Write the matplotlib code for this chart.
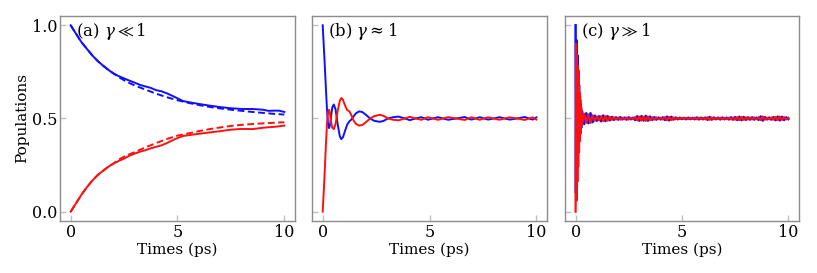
"""Population dynamics in three coupling regimes (a) weak, (b) intermediate, (c) strong."""

import matplotlib
matplotlib.use("Agg")
import matplotlib.pyplot as plt
import numpy as np

# ---------------------------------------------------------------------------
# Style
# ---------------------------------------------------------------------------

_BLUE = "#1010ff"
_RED = "#ff1010"
_SPINE = "#8c8c8c"
_TICK = "#c0c0c0"

plt.rcParams.update({
    "font.family": "DejaVu Serif",
    "mathtext.fontset": "dejavuserif",
    "font.size": 11,
})

# ---------------------------------------------------------------------------
# Data
# ---------------------------------------------------------------------------

# (a) gamma << 1 : solid = exact, dashed = approximate
a_t_solid = [0, 0.25, 0.5, 0.75, 1, 1.25, 1.5, 1.75, 2, 2.25, 2.5, 2.75, 3, 3.25, 3.5,
             3.75, 4, 4.25, 4.5, 4.75, 5, 5.25, 5.5, 6, 6.5, 7, 7.5, 8, 8.5, 9,
             9.25, 9.5, 9.75, 10]
a_blue_solid = [1.0, 0.955, 0.91, 0.875, 0.84, 0.81, 0.785, 0.762, 0.742, 0.727, 0.715,
                0.703, 0.692, 0.68, 0.672, 0.664, 0.652, 0.646, 0.635, 0.622, 0.608,
                0.594, 0.588, 0.578, 0.569, 0.561, 0.555, 0.551, 0.551, 0.547, 0.541,
                0.542, 0.542, 0.535]
a_red_solid = [0.0, 0.045, 0.09, 0.13, 0.165, 0.195, 0.218, 0.24, 0.258, 0.272, 0.285,
               0.3, 0.312, 0.322, 0.33, 0.34, 0.348, 0.356, 0.368, 0.382, 0.395, 0.406,
               0.41, 0.418, 0.425, 0.432, 0.44, 0.444, 0.443, 0.45, 0.453, 0.455,
               0.458, 0.462]

a_t_dashed = [0, 0.25, 0.5, 0.75, 1, 1.25, 1.5, 1.75, 2, 2.25, 2.5, 2.75, 3, 3.5, 4,
              4.5, 5, 5.5, 6, 6.5, 7, 7.5, 8, 8.5, 9, 9.5, 10]
a_blue_dashed = [1.0, 0.955, 0.91, 0.875, 0.84, 0.81, 0.785, 0.762, 0.742, 0.722, 0.705,
                 0.69, 0.677, 0.655, 0.633, 0.614, 0.598, 0.584, 0.572, 0.562, 0.554,
                 0.547, 0.541, 0.535, 0.53, 0.525, 0.521]
a_red_dashed = [0.0, 0.045, 0.09, 0.13, 0.165, 0.195, 0.218, 0.24, 0.258, 0.28, 0.295,
                0.308, 0.32, 0.345, 0.368, 0.39, 0.408, 0.42, 0.432, 0.443, 0.452,
                0.46, 0.466, 0.47, 0.474, 0.477, 0.48]

# (b) gamma ~ 1
b_t = [0, 0.05, 0.1, 0.15, 0.2, 0.25, 0.3, 0.35, 0.4, 0.45, 0.52, 0.6, 0.7, 0.8, 0.87,
       0.95, 1.05, 1.15, 1.25, 1.35, 1.45, 1.55, 1.7, 1.85, 2.0, 2.2, 2.4, 2.67, 2.85,
       3.05, 3.3, 3.55, 3.85, 4.07, 4.35, 4.62, 4.78, 4.93, 5.15, 5.4, 5.63, 5.87, 6.25,
       6.65, 6.8, 6.96, 7.15, 7.35, 7.55, 7.74, 8.0, 8.28, 8.5, 8.75, 9.1, 9.45, 9.65,
       9.83, 10.0]
b_blue = [1.0, 0.89, 0.78, 0.66, 0.55, 0.47, 0.448, 0.47, 0.52, 0.56, 0.575, 0.55, 0.47,
          0.405, 0.389, 0.40, 0.435, 0.468, 0.485, 0.495, 0.512, 0.527, 0.538, 0.535,
          0.522, 0.502, 0.488, 0.482, 0.487, 0.50, 0.507, 0.51, 0.50, 0.491, 0.50, 0.507,
          0.50, 0.493, 0.50, 0.507, 0.50, 0.493, 0.50, 0.508, 0.50, 0.494, 0.50, 0.507,
          0.50, 0.494, 0.50, 0.507, 0.50, 0.494, 0.50, 0.508, 0.50, 0.494, 0.506]
b_red = [0.0, 0.11, 0.23, 0.36, 0.47, 0.535, 0.547, 0.52, 0.475, 0.45, 0.443, 0.47, 0.54,
         0.595, 0.61, 0.60, 0.568, 0.545, 0.538, 0.515, 0.488, 0.472, 0.462, 0.465, 0.478,
         0.498, 0.512, 0.52, 0.514, 0.50, 0.493, 0.49, 0.50, 0.509, 0.50, 0.493, 0.50,
         0.507, 0.50, 0.493, 0.50, 0.507, 0.50, 0.492, 0.50, 0.506, 0.50, 0.493, 0.50,
         0.506, 0.50, 0.493, 0.50, 0.506, 0.50, 0.492, 0.50, 0.506, 0.494]

# (c) gamma >> 1 : fast initial burst, then a narrow jittering band
c_t_early = [0.0, 0.02, 0.04, 0.06, 0.08, 0.10, 0.12, 0.14, 0.16, 0.18, 0.20, 0.22, 0.24, 0.26]
c_blue_early = [1.0, 0.10, 0.92, 0.16, 0.84, 0.24, 0.76, 0.32, 0.68, 0.38, 0.62, 0.42, 0.58, 0.45]
c_red_early = [0.0, 0.90, 0.06, 0.84, 0.16, 0.78, 0.24, 0.70, 0.32, 0.64, 0.38, 0.60, 0.42, 0.56]

c_t_tail = np.linspace(0.3, 10.0, 98)  # sampling grid, 0.1 ps
c_blue_tail = [
    0.540, 0.470, 0.528, 0.475, 0.528, 0.480, 0.515, 0.488, 0.512, 0.485,
    0.516, 0.486, 0.513, 0.490, 0.508, 0.493, 0.506, 0.494, 0.507, 0.495,
    0.505, 0.494, 0.506, 0.496, 0.504, 0.492, 0.512, 0.488, 0.513, 0.489,
    0.514, 0.488, 0.510, 0.493, 0.507, 0.494, 0.505, 0.495, 0.506, 0.492,
    0.510, 0.490, 0.509, 0.494, 0.505, 0.496, 0.504, 0.497, 0.503, 0.496,
    0.504, 0.497, 0.503, 0.496, 0.505, 0.495, 0.504, 0.496, 0.505, 0.493,
    0.508, 0.494, 0.505, 0.496, 0.504, 0.495, 0.505, 0.496, 0.504, 0.495,
    0.506, 0.494, 0.507, 0.492, 0.509, 0.491, 0.508, 0.493, 0.506, 0.494,
    0.506, 0.494, 0.505, 0.493, 0.511, 0.489, 0.507, 0.495, 0.505, 0.494,
    0.507, 0.491, 0.510, 0.490, 0.509, 0.492, 0.506, 0.497,
]
c_red_tail = [
    0.465, 0.525, 0.477, 0.522, 0.476, 0.517, 0.488, 0.510, 0.490, 0.512,
    0.487, 0.512, 0.489, 0.508, 0.493, 0.506, 0.495, 0.505, 0.494, 0.504,
    0.496, 0.505, 0.495, 0.503, 0.497, 0.507, 0.490, 0.510, 0.489, 0.509,
    0.488, 0.510, 0.491, 0.506, 0.494, 0.505, 0.496, 0.504, 0.495, 0.507,
    0.491, 0.508, 0.492, 0.505, 0.496, 0.503, 0.497, 0.503, 0.498, 0.503,
    0.497, 0.503, 0.498, 0.504, 0.496, 0.504, 0.497, 0.503, 0.496, 0.506,
    0.493, 0.505, 0.496, 0.503, 0.497, 0.504, 0.496, 0.503, 0.497, 0.504,
    0.495, 0.505, 0.494, 0.507, 0.492, 0.508, 0.493, 0.506, 0.495, 0.505,
    0.495, 0.505, 0.496, 0.506, 0.491, 0.510, 0.494, 0.504, 0.496, 0.505,
    0.494, 0.508, 0.492, 0.509, 0.493, 0.507, 0.495, 0.503,
]

panel_labels = [r"(a) $\gamma \ll 1$", r"(b) $\gamma \approx 1$", r"(c) $\gamma \gg 1$"]
x_ticks = [0, 5, 10]
y_ticks = [0.0, 0.5, 1.0]

# ---------------------------------------------------------------------------
# Figure
# ---------------------------------------------------------------------------

fig = plt.figure(figsize=(8.17, 2.73), dpi=100)
ax_a = fig.add_axes([0.0734, 0.1905, 0.2877, 0.751])
ax_b = fig.add_axes([0.3819, 0.1905, 0.2877, 0.751])
ax_c = fig.add_axes([0.6915, 0.1905, 0.2864, 0.751])
axes = [ax_a, ax_b, ax_c]

lw = 1.4
dash = (0, (3.5, 1.8))
ax_a.plot(a_t_dashed, a_blue_dashed, color=_BLUE, lw=lw, ls=dash)
ax_a.plot(a_t_dashed, a_red_dashed, color=_RED, lw=lw, ls=dash)
ax_a.plot(a_t_solid, a_blue_solid, color=_BLUE, lw=lw)
ax_a.plot(a_t_solid, a_red_solid, color=_RED, lw=lw)

ax_b.plot(b_t, b_blue, color=_BLUE, lw=lw)
ax_b.plot(b_t, b_red, color=_RED, lw=lw)

c_t = list(c_t_early) + list(c_t_tail)
ax_c.plot(c_t, c_blue_early + c_blue_tail, color=_BLUE, lw=1.8)
ax_c.plot(c_t, c_red_early + c_red_tail, color=_RED, lw=1.6)

for i, (ax, label) in enumerate(zip(axes, panel_labels)):
    ax.set_xlim(-0.5, 10.5)
    ax.set_ylim(-0.05, 1.05)
    ax.set_xticks(x_ticks)
    ax.set_yticks(y_ticks)
    ax.set_xticklabels([str(v) for v in x_ticks])
    if i == 0:
        ax.set_yticklabels(["0.0", "0.5", "1.0"])
        ax.set_ylabel("Populations", fontsize=11, labelpad=2)
    else:
        ax.set_yticklabels([])
    ax.tick_params(direction="in", length=4, width=1, color=_TICK, labelsize=11.5, pad=2)
    for sp in ax.spines.values():
        sp.set_color(_SPINE)
        sp.set_linewidth(1)
    ax.set_xlabel("Times (ps)", fontsize=11, labelpad=1)
    ax.text(0.068, 0.975, label, transform=ax.transAxes, ha="left", va="top", fontsize=12)

fig.savefig("out.png", dpi=100)
plt.close(fig)
